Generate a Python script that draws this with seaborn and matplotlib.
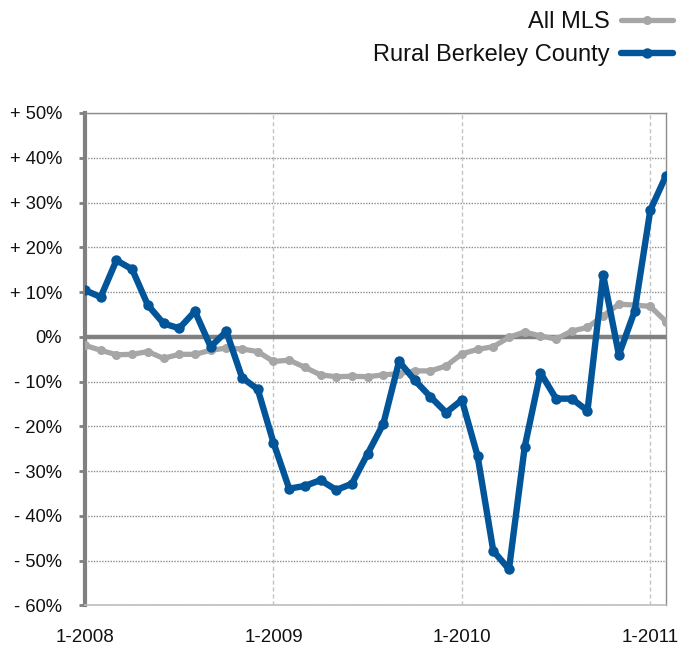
import numpy as np
import pandas as pd
import seaborn as sns
import matplotlib.pyplot as plt
from matplotlib.ticker import FuncFormatter

# ── data (monthly, 1-2008 .. 2-2011) ──
months = pd.date_range("2008-01-01", "2011-02-01", freq="MS")
all_mls = [-1.9, -3.0, -4.0, -3.9, -3.3, -4.8, -3.9, -3.9, -3.0, -2.5, -2.7, -3.3,
           -5.5, -5.2, -6.8, -8.5, -8.9, -8.8, -8.9, -8.5, -8.2, -7.6, -7.6, -6.5,
           -3.8, -2.8, -2.2, -0.1, 1.1, 0.2, -0.5, 1.3, 2.1, 4.7, 7.3, 7.1,
           6.8, 3.4]
rural_berkeley = [10.4, 8.9, 17.1, 15.1, 7.1, 3.0, 1.9, 5.7, -2.2, 1.2, -9.1, -11.7,
                  -23.6, -33.9, -33.3, -32.0, -34.2, -32.8, -26.1, -19.4, -5.5, -9.7, -13.4, -16.9,
                  -14.1, -26.6, -47.8, -51.9, -24.6, -8.0, -13.8, -13.8, -16.5, 13.8, -4.0, 5.7,
                  28.3, 36.0]
series_names = ["All MLS", "Rural Berkeley County"]
series_colors = ["#A6A6A6", "#03559A"]
x_tick_pos = [0, 12, 24, 36]
x_tick_labels = ["1-2008", "1-2009", "1-2010", "1-2011"]
y_ticks = list(range(-60, 51, 10))

# ── long format for seaborn ──
idx = np.arange(len(months))
df = pd.concat([
    pd.DataFrame({"m": idx, "pct": all_mls, "series": series_names[0]}),
    pd.DataFrame({"m": idx, "pct": rural_berkeley, "series": series_names[1]}),
])

sns.set_style("white")
plt.rcParams["font.family"] = ["Liberation Sans", "DejaVu Sans"]
plt.rcParams["text.color"] = "#111111"
plt.rcParams["xtick.labelcolor"] = "#111111"
plt.rcParams["ytick.labelcolor"] = "#111111"

fig = plt.figure(figsize=(6.78, 6.46), dpi=100)
ax = fig.add_axes([0.1254, 0.0627, 0.9823 - 0.1254, 0.8251 - 0.0627])

# grid + zero line
for v in y_ticks:
    if v != 0:
        ax.axhline(v, color="#8C8C8C", lw=1, ls=(0, (1, 1)), zorder=0)
for p in x_tick_pos[1:]:
    ax.axvline(p, color="#C4C4C4", lw=1, ls=(0, (3, 2)), zorder=0)
ax.axhline(0, color="#808080", lw=3.2, zorder=1)

for name, col, lw, ms in zip(series_names, series_colors, [3.8, 4.6], [6.5, 7.5]):
    sns.lineplot(data=df[df["series"] == name], x="m", y="pct", ax=ax, color=col,
                 lw=lw, marker="o", markersize=ms, markeredgewidth=0,
                 label=name, zorder=3, solid_capstyle="round", solid_joinstyle="round")

ax.set_xlim(0, 37)
ax.set_ylim(-60, 50)
ax.set_xticks(x_tick_pos)
ax.set_xticklabels(x_tick_labels)
ax.set_yticks(y_ticks)
ax.yaxis.set_major_formatter(FuncFormatter(
    lambda v, _: "0%" if v == 0 else (f"+ {v:.0f}%" if v > 0 else f"- {abs(v):.0f}%")))
ax.tick_params(axis="y", length=4.5, width=2, color="#808080", labelsize=13.2, pad=12, left=True)
ax.tick_params(axis="x", length=0, labelsize=13.5, pad=17)
ax.set_xlabel("")
ax.set_ylabel("")

ax.spines["left"].set_color("#808080")
ax.spines["left"].set_linewidth(3)
ax.spines["bottom"].set_color("#BDBDBD")
ax.spines["bottom"].set_linewidth(1.2)
for s in ["top", "right"]:
    ax.spines[s].set_color("#8C8C8C")
    ax.spines[s].set_linewidth(1)
    ax.spines[s].set_linestyle((0, (1, 1)))

ax.legend(loc="upper right", bbox_to_anchor=(1.0, 0.99), bbox_transform=fig.transFigure,
          frameon=False, markerfirst=False, fontsize=17, handlelength=2.2,
          handletextpad=0.5, labelspacing=0.45, borderaxespad=0.0, borderpad=0.2)

fig.savefig("out.png", dpi=100)
